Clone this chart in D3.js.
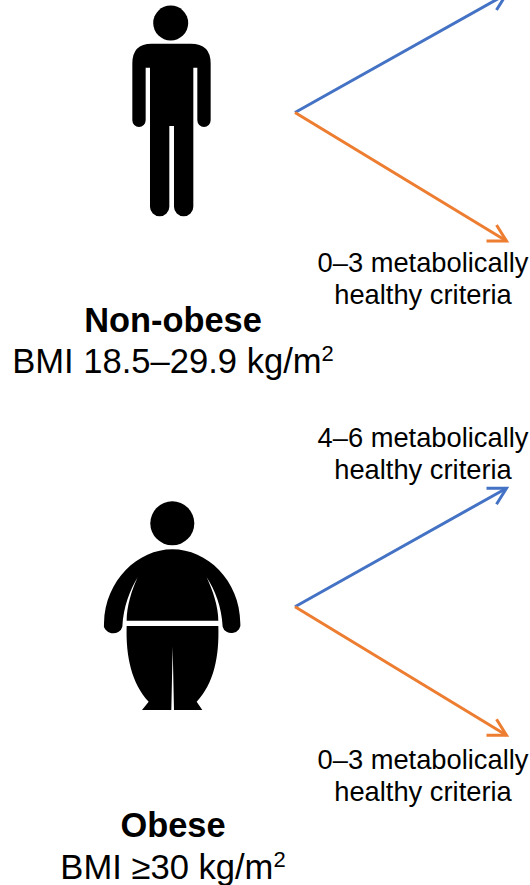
<!DOCTYPE html>
<html>
<head>
<meta charset="utf-8">
<script src="https://cdn.jsdelivr.net/npm/d3@7"></script>
<style>
    html, body { margin: 0; padding: 0; background: #fff; }
    text { font-family: "Liberation Sans", Arial, sans-serif; fill: #000; }
</style>
</head>
<body>
<div id="chart"></div>
<script>
// Body type groups and the two outcomes for each
const groupNames = ['Non-obese', 'Obese'];
const groupBmi = ['BMI 18.5–29.9 kg/m', 'BMI ≥30 kg/m'];
const outcomeLabels = ['4–6 metabolically', '0–3 metabolically'];
const outcomeSubLabel = 'healthy criteria';
const outcomeColors = ['#4472C4', '#ED7D31'];

// Figures traced at 3x, so they are drawn scaled down
const manPath = 'M155 131H272Q332 131 332 190V361A20 20 0 0 1 292 361V203H280V620A29 29 0 0 1 222 620V378H208V620A29 29 0 0 1 150 620V203H137V361A20 20 0 0 1 97 361V190Q97 131 155 131Z';
const obeseUpper = 'M247 178C350 178 450 270 451 400A27 24 0 0 1 398 410C395 350 375 300 350 262C368 300 385 350 385 392H110C110 350 125 300 143 262C120 300 100 350 97 410A27 24 0 0 1 42 400C45 270 145 178 247 178Z';
const obeseLower = 'M110 408H385C388 500 372 580 320 635L337 660H252L248 470L244 660H156L176 635C125 580 107 500 110 408Z';

const width = 530;
const height = 885;

const svg = d3.select('#chart')
    .append('svg')
    .attr('width', width)
    .attr('height', height);

// Vertical anchor of each group = where its arrows start
const groupY = d3.scaleOrdinal().domain(groupNames).range([112.5, 606.7]);
const arrowX = d3.scaleLinear().domain([0, 1]).range([295, 506.5]);
const arrowDy = d3.scaleOrdinal().domain(outcomeLabels).range([-118.5, 128.5]);
const arrowLine = d3.line();

groupNames.forEach(name => {
    const y0 = groupY(name);
    outcomeLabels.forEach((label, i) => {
        const tipX = arrowX(1);
        const tipY = y0 + arrowDy(label);
        const dir = i === 0 ? 1 : -1;
        const g = svg.append('g')
            .attr('fill', 'none')
            .attr('stroke', outcomeColors[i])
            .attr('stroke-width', 3);

        g.append('path').attr('d', arrowLine([[arrowX(0), y0], [tipX, tipY]]));

        // open arrow head
        g.append('path')
            .attr('d', arrowLine([[tipX - 20, tipY], [tipX, tipY], [tipX - 10, tipY + dir * 16]]));
    });
});

// Outcome labels
const labelRows = [
    { label: outcomeLabels[1], base: 272 },
    { label: outcomeLabels[0], base: 446.5 },
    { label: outcomeLabels[1], base: 768.5 }
];
labelRows.forEach(row => {
    svg.append('text')
        .attr('x', 423)
        .attr('y', row.base)
        .attr('text-anchor', 'middle')
        .style('font-size', '27.3px')
        .text(row.label);
    svg.append('text')
        .attr('x', 423)
        .attr('y', row.base + 32)
        .attr('text-anchor', 'middle')
        .style('font-size', '27.3px')
        .text(outcomeSubLabel);
});

// Non-obese figure
const man = svg.append('g');
man.append('circle').attr('cx', 170.7).attr('cy', 23).attr('r', 17.5);
man.append('path')
    .attr('transform', 'translate(100,0) scale(0.3333)')
    .attr('d', manPath);

// Obese figure
const fat = svg.append('g');
fat.append('circle').attr('cx', 172.3).attr('cy', 523.3).attr('r', 22);
const fatBody = fat.append('g').attr('transform', 'translate(90,490) scale(0.3333)');
[obeseUpper, obeseLower].forEach(d => fatBody.append('path').attr('d', d));

// Group captions
const captionBase = [[332, 373], [837, 879]];
groupNames.forEach((name, i) => {
    svg.append('text')
        .attr('x', 173)
        .attr('y', captionBase[i][0])
        .attr('text-anchor', 'middle')
        .style('font-size', '34.4px')
        .style('font-weight', '700')
        .text(name);

    const bmi = svg.append('text')
        .attr('x', 173)
        .attr('y', captionBase[i][1])
        .attr('text-anchor', 'middle')
        .style('font-size', '34.6px')
        .text(groupBmi[i]);
    bmi.append('tspan')
        .attr('dy', -12)
        .style('font-size', '22px')
        .text('2');
});
</script>
</body>
</html>
